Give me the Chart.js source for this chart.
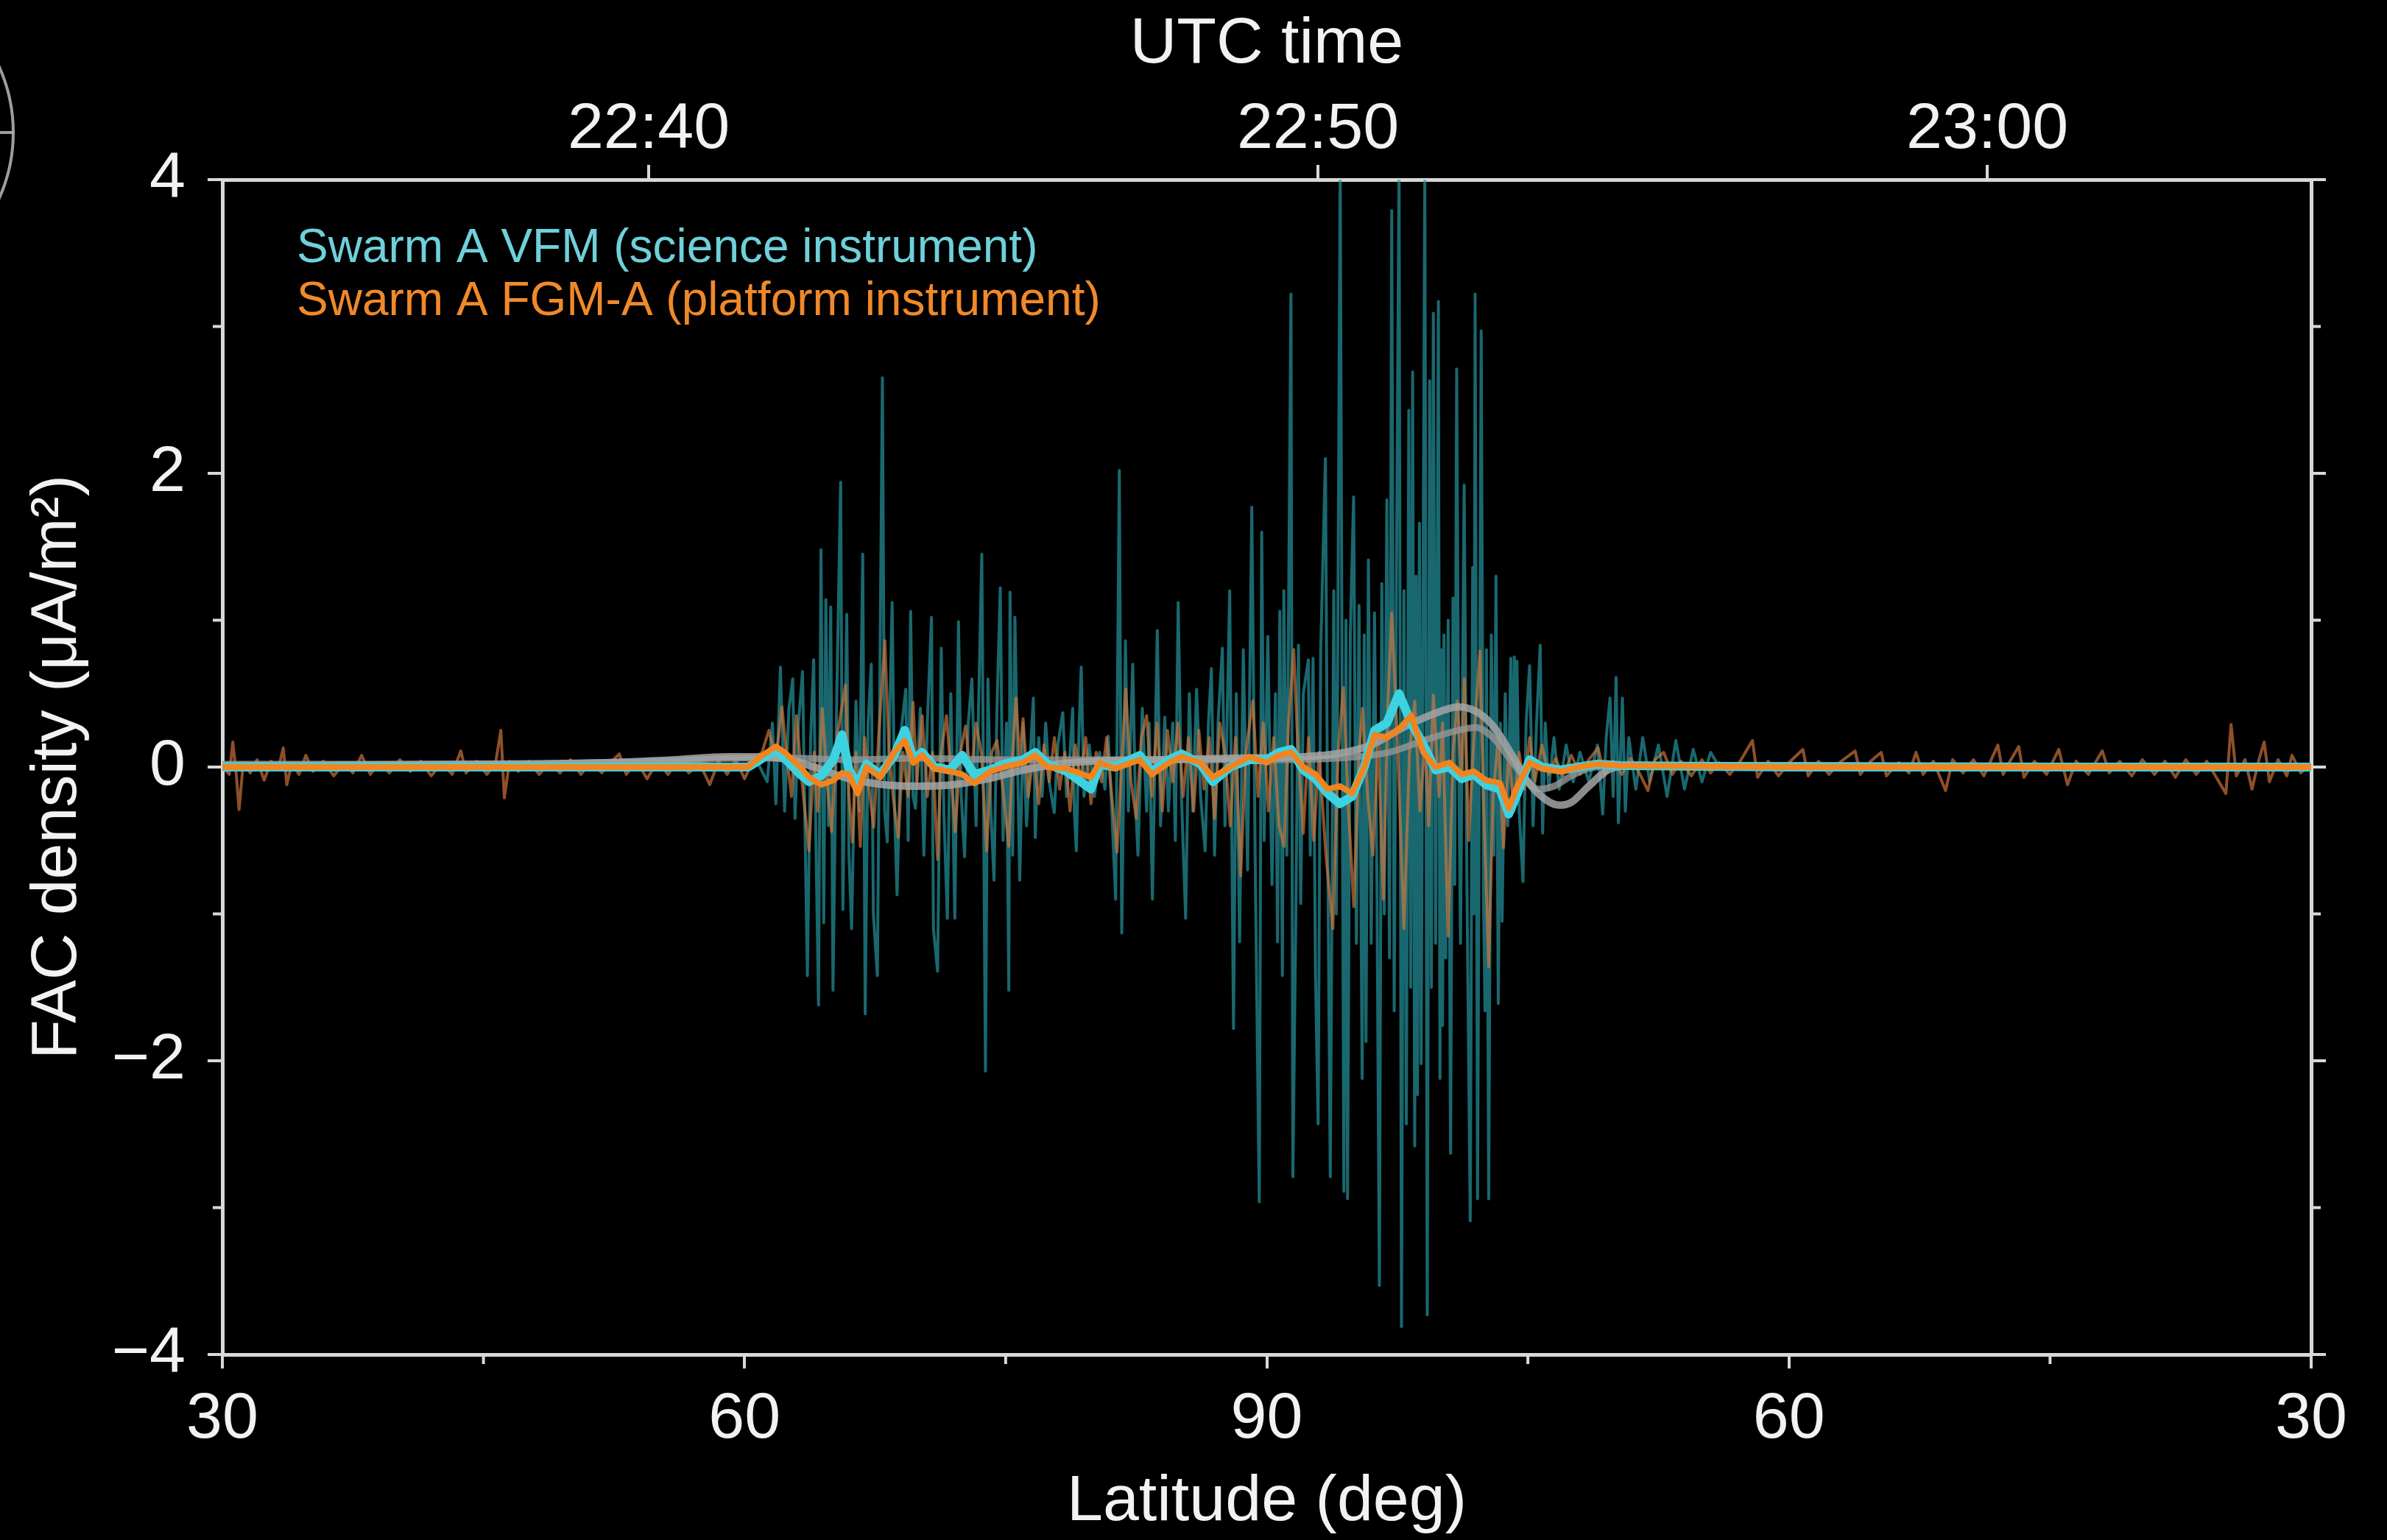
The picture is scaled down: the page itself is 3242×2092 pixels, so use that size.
<!DOCTYPE html>
<html>
<head>
<meta charset="utf-8">
<title>Swarm A field-aligned current density</title>
<script src="https://cdn.jsdelivr.net/npm/chart.js@4.4.1/dist/chart.umd.min.js"></script>
<style>
  html, body { margin: 0; padding: 0; background: #000; }
  #wrap { width: 3242px; height: 2092px; background: #000; }
  canvas { display: block; }
</style>
</head>
<body>
<div id="wrap"><canvas id="fac" width="3242" height="2092"></canvas></div>
<script>
// Along-track position in degrees: 30..90 climbs to the pole, 90..150 descends back to 30 deg latitude.
const TRACK_MIN = 30, TRACK_MAX = 150;
const latTicks = [30, 60, 90, 120, 150];
const latTickLabels = ['30', '60', '90', '60', '30'];
const latMinorTicks = [45, 75, 105, 135];

const facTicks = [-4, -2, 0, 2, 4];
const facMinorTicks = [-3, -1, 1, 3];

// UTC (minutes of day) at both ends of the track window
const utcStart = 1353.63, utcEnd = 1384.84;
const utcTicks = [1360, 1370, 1380];
const utcTickLabels = ['22:40', '22:50', '23:00'];

// [track deg, FAC uA/m^2]
const vfmRaw = [
  [30,0],[45,0.01],[60.8,0.02],[61.3,-0.1],[61.6,0.3],[61.8,-0.25],
  [62.06,0.68],[62.3,-0.3],[62.55,0.4],[62.77,0.6],[62.9,-0.35],[63.1,0.3],[63.33,0.65],[63.61,-1.42],[63.8,0.2],[63.97,0.73],
  [64.1,-0.5],[64.25,-1.62],[64.39,1.48],[64.55,-1.06],[64.67,1.14],[64.82,-0.4],[64.95,1.09],[65.08,-1.52],[65.3,0.5],[65.52,1.94],
  [65.65,-0.97],[65.87,1.04],[66.0,-0.6],[66.15,-1.1],[66.4,0.45],[66.6,-0.3],[66.79,1.45],[66.93,-1.68],[67.1,0.3],[67.28,0.7],
  [67.4,-1.0],[67.63,-1.42],[67.92,2.65],[68.05,-0.3],[68.2,-0.51],[68.35,0.4],[68.48,1.12],[68.62,-0.3],[68.76,-0.87],[69.0,0.25],
  [69.26,0.53],[69.4,-0.5],[69.54,1.06],[69.68,-0.2],[69.82,-0.28],[70.1,0.4],[70.3,-0.6],[70.5,0.3],[70.74,1.02],[70.85,-1.1],
  [71.09,-1.39],[71.3,0.81],[71.45,-0.3],[71.65,-1.03],[71.85,0.5],[72.08,-1.03],[72.29,0.99],[72.45,-0.2],[72.64,-0.61],[72.85,0.3],
  [73.06,0.6],[73.3,-0.4],[73.63,1.45],[73.84,-2.07],[73.98,0.6],[74.15,-0.3],[74.33,-0.77],[74.5,0.4],[74.69,1.22],[74.85,-0.5],
  [75.05,0.3],[75.18,-1.52],[75.25,1.19],[75.4,-0.6],[75.53,1.02],[75.81,-0.77],[76.0,0.3],[76.2,-0.4],[76.59,0.47],[76.7,-0.48],
  [76.9,0.2],[77.1,-0.2],[77.3,0.3],[77.5,-0.1],[77.79,-0.31],[78.0,0.15],[78.28,0.37],[78.5,-0.2],[78.7,0.1],[78.85,0.4],
  [78.95,-0.31],[79.06,-0.57],[79.2,0.2],[79.34,0.68],[79.5,-0.2],[79.8,0.15],[80.1,-0.2],[80.4,0.1],[80.7,-0.15],[80.89,0.21],
  [81.1,-0.3],[81.32,-0.9],[81.53,2.02],[81.67,-1.13],[81.88,0.86],[82.05,-0.3],[82.3,0.7],[82.45,-0.2],[82.6,-0.6],[82.85,0.4],
  [83.1,-0.3],[83.25,0.3],[83.43,-0.9],[83.71,0.93],[83.9,-0.4],[84.14,0.34],[84.35,-0.3],[84.6,0.3],[84.75,-0.5],[84.91,1.12],
  [85.1,-0.2],[85.34,-1.03],[85.55,0.5],[85.75,-0.3],[85.97,0.53],[86.2,-0.2],[86.46,-0.57],[86.65,0.3],[86.82,0.67],[87.0,-0.6],
  [87.2,0.3],[87.45,0.81],[87.6,-0.4],[87.87,1.2],[88.09,-1.78],[88.25,0.5],[88.44,-1.19],[88.65,0.8],[88.9,-0.7],[89.14,1.77],
  [89.35,-0.8],[89.57,-2.96],[89.71,1.6],[89.85,-0.5],[90.06,0.89],[90.3,-0.8],[90.5,0.5],[90.62,-1.19],[90.75,1.06],[90.9,-1.42],
  [90.98,1.2],[91.15,-0.6],[91.39,3.22],[91.5,-2.79],[91.68,-0.9],[91.82,0.83],[91.95,-0.93],[92.1,0.5],[92.39,0.73],[92.5,-0.6],
  [92.66,0.74],[92.8,-1.41],[92.95,-2.43],[93.1,0.8],[93.37,2.1],[93.5,-0.5],[93.65,-2.79],[93.85,1.2],[94.0,-1.0],[94.22,4.1],
  [94.43,-2.89],[94.55,1.0],[94.64,-2.94],[94.8,0.9],[94.99,1.84],[95.15,-1.2],[95.3,1.1],[95.48,-2.12],[95.6,0.9],[95.7,-1.87],
  [95.84,1.41],[96.0,-1.2],[96.19,1.05],[96.33,-0.8],[96.47,-3.53],[96.61,1.25],[96.75,-1.0],[96.9,1.82],[97.05,-1.3],[97.18,3.79],
  [97.32,-1.66],[97.46,1.5],[97.6,4.1],[97.74,-3.81],[97.88,1.2],[98.02,-2.43],[98.16,2.43],[98.27,-1.5],[98.38,2.69],[98.5,-2.58],
  [98.58,1.3],[98.66,-2.23],[98.77,1.66],[98.87,-2.02],[99.08,4.1],[99.22,-3.73],[99.36,2.63],[99.46,-1.5],[99.57,3.09],[99.7,-1.2],
  [99.86,3.17],[99.95,-2.12],[100.02,0.8],[100.1,-1.76],[100.18,0.9],[100.28,-1.3],[100.42,1.0],[100.56,-2.63],[100.7,1.15],[100.8,-0.8],
  [100.91,2.71],[101.02,0.2],[101.13,-1.2],[101.34,1.92],[101.5,-0.8],[101.69,-3.09],[101.83,1.36],[101.9,-1.0],[101.97,3.22],[102.11,-2.94],
  [102.32,2.97],[102.45,-0.9],[102.54,-1.66],[102.62,0.8],[102.75,-2.94],[102.9,0.9],[103.05,-0.6],[103.17,1.3],[103.3,-1.61],[103.42,0.3],
  [103.52,-1.05],[103.7,0.5],[103.85,-0.4],[104.02,0.74],[104.12,-0.3],[104.22,0.75],[104.3,-0.2],[104.37,0.72],[104.5,-0.3],[104.72,-0.78],
  [104.9,0.3],[105.1,0.69],[105.3,-0.4],[105.5,0.3],[105.71,0.83],[105.85,-0.45],[106.0,0.3],[106.2,-0.15],[106.5,0.2],[106.8,-0.15],
  [107.2,0.15],[107.6,-0.1],[108.0,0.1],[108.5,-0.1],[109.0,0.15],[109.3,-0.32],[109.5,0.2],[109.72,0.47],[109.9,-0.2],[110.07,0.61],
  [110.2,-0.38],[110.43,0.47],[110.6,-0.3],[110.8,0.2],[111.2,-0.15],[111.6,0.2],[112.0,-0.1],[112.5,0.15],[113.0,-0.2],[113.5,0.18],
  [114.0,-0.15],[114.5,0.12],[115.0,-0.1],[115.5,0.1],[116.0,0],[150,0]
];

const fgmRaw = [
  [30,0],[30.4,-0.05],[30.6,0.17],[30.8,-0.05],[30.96,-0.29],[31.2,0.03],[31.6,-0.04],[32.0,0.05],[32.4,-0.09],[32.8,0.04],
  [33.2,-0.02],[33.5,0.13],[33.7,-0.12],[34.0,0.03],[34.4,-0.05],[34.8,0.08],[35.2,-0.03],[35.8,0.04],[36.4,-0.06],[37.0,0.03],
  [37.5,-0.04],[38.0,0.08],[38.5,-0.05],[39.0,0.03],[39.6,-0.04],[40.2,0.05],[40.8,-0.03],[41.4,0.04],[42.0,-0.06],[42.6,0.03],
  [43.2,-0.05],[43.7,0.11],[44.0,-0.04],[44.6,0.04],[45.2,-0.05],[45.7,0.03],[46.0,0.25],[46.2,-0.21],[46.5,0.04],[47.0,-0.03],
  [47.6,0.04],[48.2,-0.05],[48.8,0.03],[49.4,-0.04],[50.0,0.05],[50.6,-0.05],[51.2,0.04],[51.8,-0.04],[52.3,0.03],[52.8,0.09],
  [53.2,-0.05],[53.8,0.04],[54.4,-0.08],[55.0,0.04],[55.6,-0.05],[56.2,0.05],[56.8,-0.04],[57.4,0.03],[58.0,-0.12],[58.5,0.04],
  [59.0,-0.05],[59.5,0.05],[60.0,-0.08],[60.5,0.05],
  [61.0,0.1],[61.4,0.25],[61.8,0.05],[62.15,0.41],[62.4,0.1],[62.7,-0.2],[62.98,0.35],[63.3,-0.1],[63.7,-0.57],[64.0,0.1],
  [64.2,-0.3],[64.46,0.4],[64.75,-0.1],[65.0,-0.44],[65.3,0.2],[65.8,0.56],[66.0,-0.2],[66.2,-0.51],[66.4,0.1],[66.65,-0.54],
  [66.9,0.2],[67.1,-0.1],[67.42,-0.41],[67.7,0.2],[68.06,0.86],[68.3,0.1],[68.55,-0.22],[68.83,-0.48],[69.1,0.1],[69.4,-0.2],
  [69.68,0.44],[69.9,-0.1],[70.2,0.35],[70.5,-0.2],[70.8,0.1],[71.09,-0.63],[71.3,0.1],[71.6,0.35],[71.9,-0.1],[72.1,-0.44],
  [72.4,0.1],[72.7,0.28],[73.0,-0.1],[73.3,0.3],[73.6,0.1],[73.91,-0.57],[74.2,0.1],[74.5,0.18],[74.8,-0.1],[75.18,-0.54],
  [75.4,0.1],[75.6,0.47],[75.8,0.05],[76.0,0.33],[76.3,-0.2],[76.6,0.1],[76.9,-0.25],[77.2,0.15],[77.5,-0.1],[77.8,0.2],
  [78.1,-0.15],[78.4,0.1],[78.7,-0.3],[79.0,0.15],[79.3,-0.1],[79.6,0.2],[79.9,-0.25],[80.2,0.1],[80.5,-0.1],[80.8,0.2],
  [81.1,-0.2],[81.4,-0.58],[81.7,0.1],[81.9,0.53],[82.2,-0.1],[82.5,-0.35],[82.8,0.2],[83.1,0.35],[83.4,-0.2],[83.7,0.3],
  [84.0,-0.3],[84.3,0.25],[84.6,-0.1],[84.9,0.3],[85.2,-0.2],[85.5,0.2],[85.8,-0.3],[86.1,0.25],[86.4,-0.15],[86.7,0.2],
  [87.0,-0.35],[87.3,0.3],[87.6,0.1],[87.9,-0.4],[88.2,0.2],[88.5,-0.74],[88.8,0.1],[89.2,0.45],[89.5,-0.2],[89.8,0.3],
  [90.1,-0.3],[90.4,0.2],[90.7,-0.4],[91.0,-0.54],[91.25,0.3],[91.55,0.8],[91.8,0.1],[92.1,-0.45],[92.4,0.2],[92.7,-0.5],
  [93.0,0.1],[93.4,-0.6],[93.8,-1.1],[94.1,0.1],[94.4,0.54],[94.7,-0.3],[95.0,-0.95],[95.3,0.1],[95.5,0.4],[95.8,-0.2],
  [96.1,-0.6],[96.4,0.2],[96.7,-0.9],[96.95,0.4],[97.18,1.05],[97.5,0.2],[97.88,-1.1],[98.2,0.1],[98.5,0.45],[98.8,-0.3],
  [99.1,0.2],[99.3,-0.4],[99.57,0.49],[99.9,-0.2],[100.1,0.3],[100.42,-1.15],[100.7,0.1],[100.95,0.45],[101.2,-0.1],[101.35,0.6],
  [101.6,-0.5],[101.9,0.2],[102.25,0.79],[102.45,-0.2],[102.75,-1.36],[103.0,-0.2],[103.3,0.2],[103.6,-0.55],[103.9,0.1],[104.2,-0.3],
  [104.5,0.1],[104.8,-0.15],[105.1,0.2],[105.4,-0.1],[105.8,0.15],[106.2,-0.05],
  [106.6,0.06],[107.0,-0.06],[107.5,0.08],[108.0,-0.05],[108.5,0.05],[109.04,0.13],[109.4,-0.06],[109.9,0.04],[110.4,-0.05],[110.9,0.06],
  [111.4,-0.04],[111.9,-0.16],[112.3,0.05],[112.8,0.1],[113.3,-0.05],[113.8,0.04],[114.4,-0.06],[115.0,0.05],[115.5,-0.04],[116.0,0.03],
  [116.6,-0.05],[117.2,0.04],[117.9,0.18],[118.2,-0.07],[118.8,0.04],[119.4,-0.06],[120.0,0.03],[120.8,0.12],[121.1,-0.06],[121.7,0.04],
  [122.3,-0.05],[122.9,0.03],[123.8,0.11],[124.1,-0.05],[124.7,0.04],[125.3,0.1],[125.6,-0.06],[126.3,0.03],[126.9,-0.04],[127.3,0.1],
  [127.7,-0.05],[128.3,0.04],[129.0,-0.16],[129.4,0.05],[130.0,-0.04],[130.6,0.05],[131.2,-0.06],[132.0,0.15],[132.3,-0.05],[132.7,0.04],
  [133.2,0.14],[133.5,-0.07],[134.1,0.04],[134.8,-0.05],[135.5,0.12],[136.0,-0.12],[136.5,0.04],[137.2,-0.05],[138.0,0.11],[138.4,-0.04],
  [139.0,0.04],[139.7,-0.06],[140.3,0.05],[141.0,-0.05],[141.6,0.04],[142.2,-0.07],[142.8,0.05],[143.4,-0.05],[144.0,0.04],[144.6,-0.08],
  [145.1,-0.18],[145.4,0.29],[145.7,-0.06],[146.2,0.05],[146.6,-0.15],[147.0,0.05],[147.3,0.17],[147.6,-0.1],[148.1,0.05],[148.6,-0.06],
  [148.9,0.08],[149.4,-0.04],[150,0.02]
];

const vfmSmooth = [
  [30,0],[45,0],[60.2,0],[60.9,0.05],[61.8,0.12],[62.3,0.06],[63.2,-0.05],[63.7,-0.1],[64.4,-0.06],[65.1,0.05],
  [65.6,0.22],[66.0,-0.02],[66.5,-0.12],[67.0,0.02],[67.8,-0.05],[68.6,0.08],[69.2,0.25],[69.7,0.05],[70.2,0.1],[70.9,0],
  [71.8,-0.02],[72.5,0.08],[73.2,-0.05],[74.1,-0.02],[74.9,0.02],[76.0,0.05],[76.7,0.1],[77.4,0.02],[78.5,-0.03],[79.9,-0.15],
  [80.4,0.02],[81.3,0],[82.7,0.08],[83.4,-0.03],[84.4,0.05],[85.1,0.09],[86.2,0.02],[86.9,-0.1],[87.9,0],[89.0,0.05],
  [90.0,0.05],[90.7,0.1],[91.4,0.12],[92.1,-0.02],[92.8,-0.08],[93.5,-0.18],[94.2,-0.25],[94.9,-0.2],[95.6,0],[96.2,0.25],
  [96.9,0.3],[97.6,0.5],[98.3,0.3],[99.0,0.15],[99.7,-0.02],[100.5,0],[101.2,-0.08],[101.9,-0.05],[102.6,-0.12],[103.4,-0.15],
  [103.9,-0.32],[104.4,-0.18],[105.1,0.05],[105.8,0],[106.9,-0.02],[107.9,0],[109.0,0.02],[110.3,0.01],[120,0],[135,0],[150,0]
];

const fgmSmooth = [
  [30,0],[45,0],[60.2,0],[60.9,0.07],[61.8,0.14],[62.3,0.1],[63.2,0],[63.7,-0.07],[64.4,-0.12],[65.1,-0.09],
  [65.6,-0.04],[66.0,-0.05],[66.5,-0.18],[67.0,0],[67.8,-0.07],[68.6,0.1],[69.2,0.18],[69.7,0.03],[70.2,0.08],[70.9,-0.01],
  [71.8,-0.03],[72.5,-0.05],[73.2,-0.11],[74.1,-0.03],[74.9,0],[76.0,0.03],[76.7,0.08],[77.4,0],[78.5,-0.01],[79.9,-0.07],
  [80.4,0.03],[81.3,-0.01],[82.7,0.05],[83.4,-0.05],[84.4,0.03],[85.1,0.07],[86.2,0.03],[86.9,-0.07],[87.9,0],[89.0,0.07],
  [90.0,0.03],[90.7,0.08],[91.4,0.1],[92.1,0],[92.8,-0.05],[93.5,-0.15],[94.2,-0.13],[94.9,-0.18],[95.6,0],[96.2,0.22],
  [96.9,0.2],[97.6,0.26],[98.3,0.35],[99.0,0.1],[99.7,0],[100.5,0.03],[101.2,-0.05],[101.9,-0.03],[102.6,-0.09],[103.4,-0.11],
  [103.9,-0.28],[104.4,-0.13],[105.1,0.03],[105.8,-0.01],[106.9,-0.03],[107.9,0],[109.0,0.02],[110.3,0.01],[120,0],[135,0],[150,0]
];

// long-window means of the two instruments
const longMeanA = [
  [30,0.01],[45,0.02],[52,0.03],[56,0.05],[59,0.07],[61,0.07],[62.5,0.05],[64,0],[66,-0.08],[68,-0.12],
  [70,-0.13],[72,-0.12],[74,-0.08],[76,-0.02],[78,0.02],[80,0.04],[84,0.05],[88,0.06],[92,0.07],[94,0.09],
  [96,0.15],[98,0.28],[100,0.38],[101,0.41],[102,0.38],[103,0.28],[104,0.1],[105,-0.1],[106,-0.22],[106.8,-0.26],
  [107.5,-0.24],[108.5,-0.13],[109.6,-0.02],[111,0.01],[120,0.01],[150,0]
];
const longMeanB = [
  [30,0.02],[45,0.02],[55,0.04],[60,0.06],[63,0.06],[66,0.05],[70,0.06],[75,0.05],[80,0.05],[85,0.05],
  [90,0.05],[94,0.06],[97,0.1],[99,0.18],[101,0.25],[102,0.27],[103,0.2],[104,0.05],[105,-0.1],[105.6,-0.15],
  [106.5,-0.13],[107.5,-0.06],[108.5,-0.01],[110,0.01],[120,0.01],[150,0]
];

const FONT = "'Liberation Sans', Arial, Helvetica, sans-serif";
const AXIS = '#d8d8d8';
const TEXT = '#f2f2f2';
Chart.defaults.font.family = FONT;
Chart.defaults.color = TEXT;

const pts = arr => arr.map(([x, y]) => ({x, y}));
const fixedTicks = vals => scale => { scale.ticks = vals.map(v => ({value: v})); };
const fmtFac = v => (v < 0 ? '\u2212' + Math.abs(v) : String(v));

const datasets = [
  { label: 'Swarm A FGM-A (platform instrument) smoothed', data: pts(fgmSmooth), order: 0,
    borderColor: '#f0841f', borderWidth: 8, tension: 0 },
  { label: 'Swarm A VFM (science instrument) smoothed', data: pts(vfmSmooth), order: 1,
    borderColor: '#3dd2e2', borderWidth: 12, tension: 0 },
  { label: 'Long-window mean A', data: pts(longMeanA), order: 2,
    borderColor: 'rgba(165,165,165,0.85)', borderWidth: 10, cubicInterpolationMode: 'monotone' },
  { label: 'Long-window mean B', data: pts(longMeanB), order: 3,
    borderColor: 'rgba(150,150,150,0.8)', borderWidth: 9, cubicInterpolationMode: 'monotone' },
  { label: 'Swarm A FGM-A (platform instrument)', data: pts(fgmRaw), order: 4,
    borderColor: 'rgba(214,122,60,0.66)', borderWidth: 4, tension: 0, keyColor: '#f0892a', keyRow: 1 },
  { label: 'Swarm A VFM (science instrument)', data: pts(vfmRaw), order: 5,
    borderColor: 'rgba(40,158,168,0.66)', borderWidth: 4, tension: 0, keyColor: '#6fd0da', keyRow: 0 }
];

// Black page behind the plot
const backdrop = {
  id: 'backdrop',
  beforeDraw(chart) {
    const {ctx, width, height} = chart;
    ctx.save(); ctx.fillStyle = '#000'; ctx.fillRect(0, 0, width, height); ctx.restore();
  }
};

// Shorter outward minor ticks on the frame
const minorTicks = {
  id: 'minorTicks',
  afterDraw(chart) {
    const {ctx, chartArea: a, scales: {x, y}} = chart;
    ctx.save();
    ctx.strokeStyle = AXIS; ctx.lineWidth = 4; ctx.beginPath();
    latMinorTicks.forEach(v => {
      const px = x.getPixelForValue(v);
      ctx.moveTo(px, a.bottom); ctx.lineTo(px, a.bottom + 13);
    });
    facMinorTicks.forEach(v => {
      const py = y.getPixelForValue(v);
      ctx.moveTo(a.left, py); ctx.lineTo(a.left - 13, py);
      ctx.moveTo(a.right, py); ctx.lineTo(a.right + 13, py);
    });
    ctx.stroke();
    ctx.restore();
  }
};

// Coloured text key in the upper left of the plot
const textKey = {
  id: 'textKey',
  afterDatasetsDraw(chart) {
    const {ctx, chartArea: a} = chart;
    ctx.save();
    ctx.font = `64px ${FONT}`;
    ctx.textAlign = 'left'; ctx.textBaseline = 'alphabetic';
    chart.data.datasets.filter(d => d.keyColor).forEach(d => {
      ctx.fillStyle = d.keyColor;
      ctx.fillText(d.label, a.left + 101, a.top + 112 + d.keyRow * 72);
    });
    ctx.restore();
  }
};

// Orbit globe marker peeking in at the top-left corner
const globeMarker = {
  id: 'globeMarker',
  afterDraw(chart) {
    const {ctx} = chart;
    ctx.save();
    ctx.strokeStyle = 'rgba(175,175,175,0.9)'; ctx.lineWidth = 4;
    ctx.beginPath(); ctx.arc(-201, 180, 219, -0.45, 0.45); ctx.stroke();
    ctx.beginPath(); ctx.moveTo(0, 180); ctx.lineTo(18, 180); ctx.stroke();
    ctx.restore();
  }
};

const tickFont = {size: 88};
const titleFont = {size: 88};

new Chart(document.getElementById('fac'), {
  type: 'line',
  data: { datasets },
  options: {
    responsive: false,
    animation: false,
    devicePixelRatio: 1,
    layout: { padding: 0 },
    elements: { point: { radius: 0 }, line: { borderJoinStyle: 'round', borderCapStyle: 'round' } },
    plugins: { legend: { display: false }, tooltip: { enabled: false } },
    scales: {
      x: {
        type: 'linear', position: 'bottom', min: TRACK_MIN, max: TRACK_MAX,
        afterBuildTicks: fixedTicks(latTicks),
        afterFit: s => { s.height = 252; },
        grid: { drawOnChartArea: false, color: AXIS, lineWidth: 4, tickLength: 19 },
        border: { color: AXIS, width: 5 },
        ticks: { font: tickFont, color: TEXT, padding: 17, maxRotation: 0, autoSkip: false,
                 callback: v => latTickLabels[latTicks.indexOf(v)] },
        title: { display: true, text: 'Latitude (deg)', font: titleFont, color: TEXT, padding: { top: 0, bottom: -2 } }
      },
      x2: {
        type: 'linear', position: 'top', min: utcStart, max: utcEnd,
        afterBuildTicks: fixedTicks(utcTicks),
        afterFit: s => { s.height = 244; },
        grid: { drawOnChartArea: false, color: AXIS, lineWidth: 4, tickLength: 20 },
        border: { color: AXIS, width: 5 },
        ticks: { font: tickFont, color: TEXT, padding: -6, maxRotation: 0, autoSkip: false,
                 callback: v => utcTickLabels[utcTicks.indexOf(v)] },
        title: { display: true, text: 'UTC time', font: titleFont, color: TEXT, padding: { top: 8, bottom: 0 } }
      },
      y: {
        type: 'linear', position: 'left', min: -4, max: 4,
        afterBuildTicks: fixedTicks(facTicks),
        afterFit: s => { s.width = 302; },
        grid: { drawOnChartArea: false, color: AXIS, lineWidth: 4, tickLength: 20 },
        border: { color: AXIS, width: 5 },
        ticks: { font: tickFont, color: TEXT, padding: 30, callback: fmtFac },
        title: { display: true, text: 'FAC density (\u03bcA/m\u00b2)', font: titleFont, color: TEXT, padding: { top: 26, bottom: 0 } }
      },
      yR: {
        type: 'linear', position: 'right', min: -4, max: 4,
        afterBuildTicks: fixedTicks(facTicks),
        afterFit: s => { s.width = 103; },
        grid: { drawOnChartArea: false, color: AXIS, lineWidth: 4, tickLength: 20 },
        border: { color: AXIS, width: 5 },
        ticks: { display: false }
      }
    }
  },
  plugins: [backdrop, minorTicks, textKey, globeMarker]
});
</script>
</body>
</html>
